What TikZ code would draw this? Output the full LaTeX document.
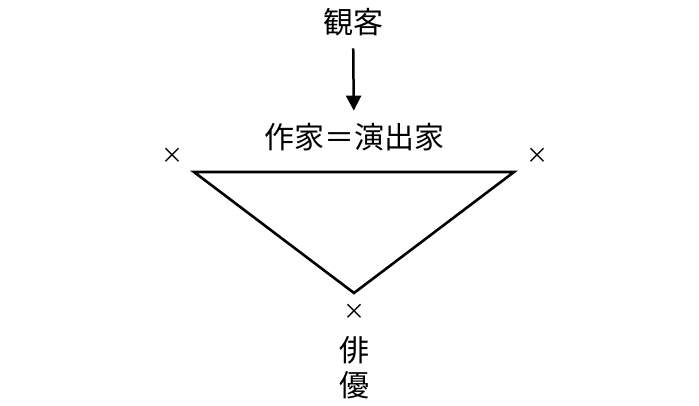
\documentclass[tikz,border=0pt]{standalone}
\usepackage{fontspec}
\newfontfamily\cjk{Noto Sans CJK JP}
\usetikzlibrary{arrows.meta}
\begin{document}
\begin{tikzpicture}[x=1pt,y=1pt]
\useasboundingbox (0,0) rectangle (699,405);
% Audience and author
\node[font=\cjk\fontsize{30}{36}\selectfont] (audience) at (353,383) {観客};
\node[font=\cjk\fontsize{30}{36}\selectfont] (author) at (354,268) {作家＝演出家};

% Arrow from audience to author
\draw[line width=2.5pt,-{Triangle[length=15pt,width=15pt]},shorten <=9pt,shorten >=9pt] (audience) -- (author);

% Triangle
\coordinate (left) at (194,233);
\coordinate (right) at (514,233);
\coordinate (bottom) at (354,112);
\draw[line width=2.6pt] (left) -- (right) -- (bottom) -- cycle;

% Crosses at the corners
\node[font=\cjk\fontsize{22}{26}\selectfont] (xleft) at (172,249) {×};
\node[font=\cjk\fontsize{22}{26}\selectfont] (xright) at (537,249) {×};
\node[font=\cjk\fontsize{22}{26}\selectfont] (xbottom) at (354,93) {×};

% Actor
\node[font=\cjk\fontsize{30}{35}\selectfont,align=center] (actor) at (354,37) {俳\\優};
\end{tikzpicture}
\end{document}
